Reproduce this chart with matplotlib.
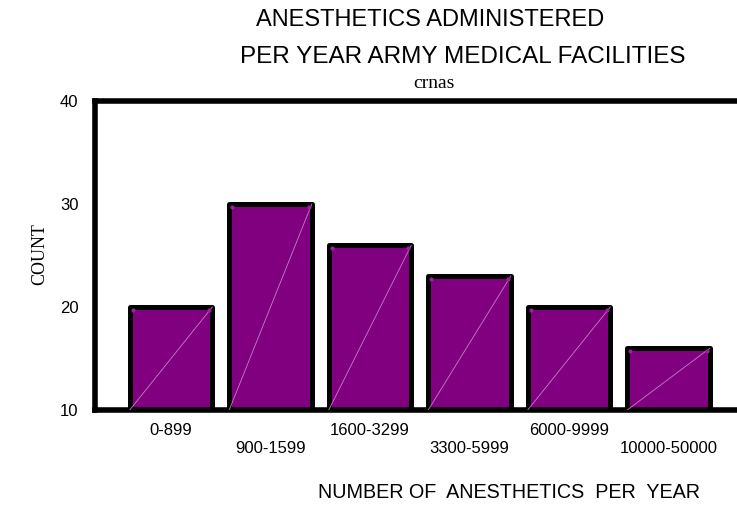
import numpy as np
import matplotlib
matplotlib.use("Agg")
import matplotlib.pyplot as plt

# ranges of anesthetics per year and the count of facilities
categories = ["0-899", "900-1599", "1600-3299", "3300-5999", "6000-9999", "10000-50000"]
counts = [20, 30, 26, 23, 20, 16]
yticks = [10, 20, 30, 40]

title1 = "ANESTHETICS ADMINISTERED"
title2 = "PER YEAR ARMY MEDICAL FACILITIES"
subtitle = "crnas"
xlabel = "NUMBER OF  ANESTHETICS  PER  YEAR"
ylabel = "COUNT"

purple = "#800080"
diag = "#c77dc7"

plt.rcParams['font.family'] = ['Liberation Sans', 'DejaVu Sans']

fig = plt.figure(figsize=(7.37, 5.08), dpi=100)
ax = fig.add_axes([95 / 737, 1 - 410 / 508, 1 - 95 / 737, (410 - 101) / 508])

x = np.arange(len(categories))
w = 0.83
bars = ax.bar(x, counts, width=w, color=purple, edgecolor='black',
              linewidth=3.6, zorder=2)
for b in bars:
    b.set_joinstyle('round')

# thin diagonal line and corner dots inside each bar
for xi, v in zip(x, counts):
    ax.plot([xi - w / 2, xi + w / 2], [yticks[0], v], color=diag, lw=0.6, zorder=3)
    ax.plot([xi - w / 2 + 0.03, xi + w / 2 - 0.03], [v - 0.3, v - 0.3], ls='none',
            marker='o', ms=2, color='#a020a0', zorder=3)

ax.set_ylim(10, 40)
ax.set_xlim(-0.764, 5.688)
ax.set_yticks(yticks)
ax.set_yticklabels([str(t) for t in yticks], fontsize=12)
ax.set_xticks(x)
ax.set_xticklabels([c if i % 2 == 0 else "\n" + c for i, c in enumerate(categories)],
                   fontsize=12, linespacing=1.25)
ax.tick_params(axis='both', length=0)
ax.tick_params(axis='y', pad=12)
ax.tick_params(axis='x', pad=9.5)

for s in ['left', 'top', 'bottom']:
    ax.spines[s].set_linewidth(4)
    ax.spines[s].set_capstyle('projecting')
ax.spines['right'].set_visible(False)

fig.text(430 / 737, 1 - 20 / 508, title1, ha='center', va='center', fontsize=17)
fig.text(463 / 737, 1 - 57 / 508, title2, ha='center', va='center', fontsize=17.5)
fig.text(434 / 737, 1 - 84 / 508, subtitle, ha='center', va='center', fontsize=14,
         family='Liberation Serif')
fig.text(509 / 737, 1 - 493 / 508, xlabel, ha='center', va='center', fontsize=14.2)
fig.text(40 / 737, 1 - 254 / 508, ylabel, ha='center', va='center', fontsize=13,
         rotation=90, family='Liberation Serif')

fig.savefig("out.png", dpi=100)
